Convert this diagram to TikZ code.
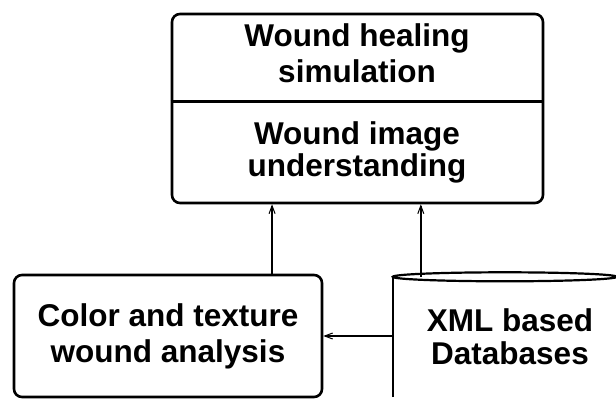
\documentclass[tikz,border=0pt]{standalone}
\usepackage{fontspec}
\setmainfont{Liberation Sans}
\usepackage{tikz}
\usetikzlibrary{arrows.meta,calc}
\tikzstyle{frame}=[draw,line width=2.6pt,rounded corners=8pt,inner sep=0pt]
\tikzstyle{label}=[align=center,inner sep=0pt,font=\bfseries\fontsize{31.5}{36}\selectfont]
\tikzstyle{edge} = [draw,line width=1.8pt,-{Straight Barb[length=8pt,width=6pt,line width=1pt]}]

\begin{document}
\begin{tikzpicture}[x=1pt,y=-1pt]

    \useasboundingbox (0,0) rectangle (616,401);
    \clip (0,0) rectangle (616,401);

    % upper box with two compartments
    \node[frame, minimum width=371pt, minimum height=189pt] (top) at (357.5,108.5) {};
    \coordinate (split) at (357.5,101.5);
    \draw[line width=3pt] (top.west |- split) -- (top.east |- split);
    \node[label] (sim) at (357,53) {Wound healing\\simulation};
    \node[label, font=\bfseries\fontsize{31.5}{32}\selectfont] (und) at (357,152) {Wound image\\understanding};

    % lower boxes
    \node[frame, label, minimum width=308pt, minimum height=122pt] (col) at (168,336) {Color and texture\\wound analysis};
    \node[label, font=\bfseries\fontsize{31.5}{33}\selectfont, minimum width=234pt, minimum height=120pt] (db) at (510,337) {XML based\\Databases};
    \draw[line width=2.6pt] (db.south west) -- (db.north west);
    \draw[line width=2.2pt] ([xshift=112pt]db.north west) ellipse [x radius=112pt, y radius=4.5pt];

    % connectors
    \coordinate (c1) at ($(col.north west)!.835!(col.north east)$);
    \coordinate (c2) at ([xshift=28pt]db.north west);
    \path[edge] (c1) -- (c1 |- top.south);
    \path[edge] (c2) -- (c2 |- top.south);
    \path[edge] (db.west |- col.east) -- (col.east);

\end{tikzpicture}
\end{document}
